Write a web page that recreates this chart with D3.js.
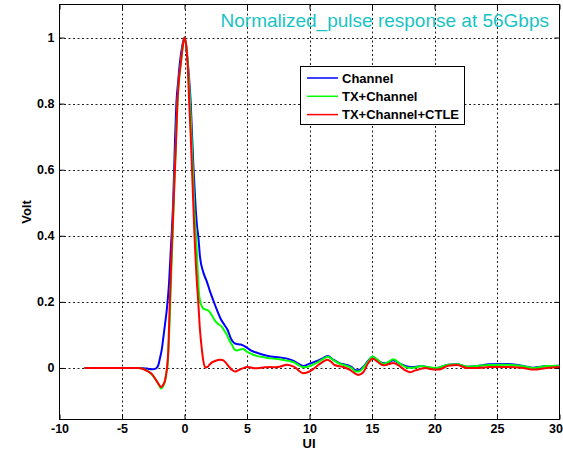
<!DOCTYPE html>
<html><head><meta charset="utf-8">
<script src="https://cdn.jsdelivr.net/npm/d3@7"></script>
<style>
html,body{margin:0;padding:0;background:#fff;}
svg{display:block;}
text{font-family:Arial,"Liberation Sans",Helvetica,sans-serif;}
</style></head>
<body>
<script>
// ---------- data ----------
const seriesNames = ["Channel", "TX+Channel", "TX+Channel+CTLE"];
const seriesColors = ["#0000ff", "#00ff00", "#ff0000"];

const uiChannel = [-8,-3.5,-3.0,-2.6,-2.3,-2.1,-1.96,-1.8,-1.7,-1.55,-1.42,-1.24,-1.1,-0.97,-0.9,-0.76,-0.65,-0.5,-0.38,-0.2,0,
  0.12,0.25,0.4,0.5,0.6,0.7,0.8,0.9,1.0,1.1,1.24,1.5,1.78,2.04,2.3,2.6,2.9,3.2,3.45,3.7,3.9,4.1,4.5,4.9,5.3,5.8,6.3,6.9,7.6,
  8.4,8.8,9.1,9.5,10.0,10.6,11.0,11.45,11.9,12.45,13.0,13.35,13.7,14.0,14.35,14.7,15.05,15.4,15.9,16.3,16.7,17.2,17.9,18.4,
  18.9,19.6,20.2,21.1,21.8,22.6,23.4,24.4,25.8,26.5,27.1,27.9,29.0,30];
const voltChannel = [0,0,-0.002,-0.004,-0.002,0.008,0.03,0.06,0.09,0.135,0.175,0.255,0.356,0.447,0.51,0.69,0.8,0.87,0.92,0.97,1.0,
  0.98,0.93,0.86,0.8,0.71,0.62,0.55,0.48,0.43,0.4,0.336,0.29,0.262,0.232,0.205,0.175,0.148,0.13,0.115,0.09,0.078,0.073,0.071,0.064,0.053,0.046,0.04,0.035,0.032,
  0.026,0.02,0.013,0.006,0.013,0.021,0.028,0.036,0.025,0.014,0.009,0.003,-0.007,-0.006,0.005,0.022,0.034,0.025,0.014,0.016,0.023,0.014,0.004,0.003,
  0.006,0.001,0.0,0.01,0.011,0.004,0.006,0.011,0.012,0.01,0.006,0.001,0.006,0.007];

const uiTx = [-8,-3.7,-3.3,-2.9,-2.62,-2.22,-2.0,-1.88,-1.7,-1.56,-1.45,-1.35,-1.25,-1.15,-1.05,-0.95,-0.85,-0.72,-0.57,-0.42,-0.3,-0.15,0,
  0.15,0.3,0.38,0.5,0.6,0.7,0.8,0.92,1.05,1.15,1.3,1.45,1.64,1.85,2.04,2.25,2.44,2.7,2.98,3.2,3.4,3.6,3.8,4.0,4.2,4.45,4.7,4.9,5.1,5.5,5.9,6.4,6.9,7.6,
  8.4,8.8,9.1,9.5,10.0,10.6,11.0,11.45,11.9,12.45,13.0,13.35,13.7,14.0,14.35,14.7,15.05,15.4,15.9,16.3,16.7,17.2,17.9,18.4,
  18.9,19.6,20.2,21.1,21.8,22.6,23.4,24.4,25.8,26.5,27.1,27.9,29.0,30];
const voltTx = [0,0,-0.003,-0.01,-0.02,-0.04,-0.055,-0.062,-0.055,-0.04,-0.015,0.01,0.08,0.18,0.3,0.4,0.52,0.65,0.8,0.88,0.92,0.97,1.0,
  0.97,0.9,0.85,0.76,0.66,0.57,0.47,0.4,0.3,0.23,0.195,0.182,0.177,0.175,0.168,0.155,0.143,0.133,0.125,0.112,0.1,0.083,0.07,0.056,0.053,0.056,0.057,0.052,0.047,0.04,0.035,0.032,0.029,0.026,
  0.021,0.016,0.009,0.002,0.005,0.016,0.025,0.034,0.024,0.012,0.006,0.0,-0.011,-0.01,0.003,0.02,0.035,0.026,0.012,0.018,0.026,0.014,0.001,0.001,
  0.006,0.002,0.0,0.01,0.011,0.004,0.006,0.009,0.01,0.008,0.005,0.0,0.006,0.007];

const uiCtle = [-8,-3.7,-3.3,-2.95,-2.62,-2.22,-2.0,-1.88,-1.72,-1.56,-1.45,-1.4,-1.3,-1.2,-1.1,-1.0,-0.9,-0.8,-0.7,-0.57,-0.45,-0.3,-0.15,0,
  0.15,0.25,0.38,0.5,0.6,0.7,0.8,0.9,0.98,1.1,1.24,1.35,1.5,1.65,1.8,2.0,2.2,2.5,2.8,3.05,3.3,3.55,3.8,4.04,4.3,4.6,5.0,5.24,5.6,6.04,6.5,6.84,7.3,7.64,
  8.18,8.6,8.84,9.2,9.5,10.04,10.58,11.0,11.43,11.75,12.0,12.7,13.24,13.6,13.9,14.3,14.7,15.06,15.4,15.9,16.3,16.7,17.24,17.6,18.04,18.4,18.84,
  19.3,19.64,20.3,20.7,21.1,21.8,22.6,23.4,24.4,25.8,27.1,27.9,29.0,30];
const voltCtle = [0,0,-0.003,-0.01,-0.018,-0.04,-0.053,-0.058,-0.052,-0.038,-0.015,0.0,0.05,0.17,0.28,0.38,0.47,0.57,0.66,0.8,0.87,0.92,0.97,1.0,
  0.97,0.92,0.8,0.7,0.6,0.5,0.4,0.32,0.265,0.2,0.114,0.07,0.023,0.002,0.002,0.01,0.017,0.022,0.025,0.024,0.016,0.004,-0.006,-0.011,-0.007,-0.002,0.003,0.002,-0.001,0.0,0.002,0.003,0.002,0.004,
  0.01,0.006,0.002,-0.01,-0.016,-0.01,0.005,0.017,0.025,0.018,0.009,0.003,-0.006,-0.016,-0.021,-0.013,0.015,0.028,0.02,0.008,0.011,0.015,0.005,-0.006,-0.013,-0.008,-0.003,
  0.0,-0.003,-0.005,0.0,0.007,0.009,0.0,0.0,0.003,0.003,0.0,-0.005,0.0,0.003];

const xTicks = [-10,-5,0,5,10,15,20,25,30];
const yTicks = [0,0.2,0.4,0.6,0.8,1];
const titleText = "Normalized_pulse response at 56Gbps";
const xLabel = "UI";
const yLabel = "Volt";

// ---------- drawing ----------
const W = 563, H = 451;
const L = 59.5, R = 559.5, T = 4.5, B = 419.5;
const svg = d3.select("body").append("svg").attr("width", W).attr("height", H);
svg.append("rect").attr("width", W).attr("height", H).attr("fill", "#fff");

const x = d3.scaleLinear().domain([-10, 30]).range([L, R]);
const y = d3.scaleLinear().domain([-0.156, 1.1]).range([B, T]);

// grid
const grid = svg.append("g").attr("stroke", "#222").attr("stroke-width", 1).attr("stroke-dasharray", "2,2.5");
xTicks.slice(1, -1).forEach(t => grid.append("line").attr("x1", Math.round(x(t)) + 0.5).attr("x2", Math.round(x(t)) + 0.5).attr("y1", T).attr("y2", B));
yTicks.forEach(t => grid.append("line").attr("y1", Math.round(y(t)) + 0.5).attr("y2", Math.round(y(t)) + 0.5).attr("x1", L).attr("x2", R));

// axes via d3 axis (ticks inside)
const xAxis = d3.axisBottom(x).tickValues(xTicks).tickSizeInner(-5).tickSizeOuter(0).tickPadding(5).tickFormat(d3.format("d"));
const gx = svg.append("g").attr("transform", `translate(0,${B})`).call(xAxis);
const yAxis = d3.axisLeft(y).tickValues(yTicks).tickSizeInner(-5).tickSizeOuter(0).tickPadding(5).tickFormat(d => d3.format("")(d));
const gy = svg.append("g").attr("transform", `translate(${L},0)`).call(yAxis);
// top and right ticks
svg.append("g").attr("transform", `translate(0,${T})`).call(d3.axisTop(x).tickValues(xTicks).tickSizeInner(-5).tickSizeOuter(0).tickFormat(""));
svg.append("g").attr("transform", `translate(${R},0)`).call(d3.axisRight(y).tickValues(yTicks).tickSizeInner(-5).tickSizeOuter(0).tickFormat(""));
svg.selectAll(".domain").remove();
svg.selectAll(".tick line").attr("stroke", "#000");
[gx, gy].forEach(g => g.selectAll("text").attr("fill", "#000").attr("font-size", 12.5).attr("font-weight", "bold")
  .attr("font-family", "Arial, 'Liberation Sans', sans-serif"));
gx.selectAll("text").text(d => d < 0 ? "-" + Math.abs(d) : d);
// keep the last label inside the window
gx.selectAll("text").filter(d => d === 30).attr("text-anchor", "end").attr("dx", 3);

// frame
svg.append("rect").attr("x", L).attr("y", T).attr("width", R - L).attr("height", B - T)
  .attr("fill", "none").attr("stroke", "#000").attr("stroke-width", 1);

// lines
const clip = svg.append("clipPath").attr("id", "clip").append("rect").attr("x", L).attr("y", T).attr("width", R - L).attr("height", B - T);
const line = d3.line().x(d => x(d[0])).y(d => y(d[1])).curve(d3.curveMonotoneX);
const series = [
  d3.zip(uiChannel, voltChannel),
  d3.zip(uiTx, voltTx),
  d3.zip(uiCtle, voltCtle)
];
const gl = svg.append("g").attr("clip-path", "url(#clip)");
series.forEach((s, i) => {
  gl.append("path").datum(s).attr("d", line).attr("fill", "none")
    .attr("stroke", seriesColors[i]).attr("stroke-width", 2).attr("stroke-linejoin", "round");
});

// title
svg.append("text").attr("x", 549).attr("y", 26.5).attr("text-anchor", "end")
  .attr("font-size", 19).attr("fill", "#19c3c3").text(titleText);

// axis labels
svg.append("text").attr("x", 309).attr("y", 447.5).attr("text-anchor", "middle")
  .attr("font-size", 13).attr("font-weight", "bold").attr("fill", "#000").text(xLabel);
svg.append("text").attr("transform", "translate(31,212) rotate(-90)").attr("text-anchor", "middle")
  .attr("font-size", 13).attr("font-weight", "bold").attr("fill", "#000").text(yLabel);

// legend
const lg = svg.append("g");
lg.append("rect").attr("x", 300.5).attr("y", 66.5).attr("width", 164).attr("height", 58)
  .attr("fill", "#fff").attr("stroke", "#000").attr("stroke-width", 1);
seriesNames.forEach((n, i) => {
  const cy = 78 + i * 18.3;
  lg.append("line").attr("x1", 307).attr("x2", 338).attr("y1", cy).attr("y2", cy)
    .attr("stroke", seriesColors[i]).attr("stroke-width", 1.5);
  lg.append("text").attr("x", 342).attr("y", cy).attr("dy", "0.36em")
    .attr("font-size", 13).attr("font-weight", "bold").attr("fill", "#000").text(n);
});
</script>
</body></html>
